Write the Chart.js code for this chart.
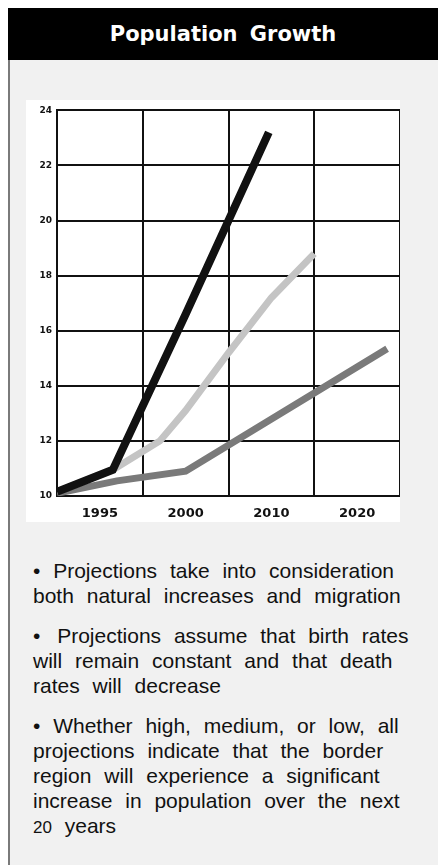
<!DOCTYPE html>
<html>
<head>
<meta charset="utf-8">
<script src="https://cdn.jsdelivr.net/npm/chart.js@4"></script>
<style>
  html, body { margin: 0; padding: 0; background: #fff; }
  #page { position: relative; width: 438px; height: 865px; overflow: hidden; background: #fff; }
  #panel { position: absolute; left: 8px; top: 8px; width: 430px; height: 857px; background: #f1f1f1; border-left: 2px solid #7a7a7a; box-sizing: border-box; }
  #header { position: absolute; left: 8px; top: 8px; width: 430px; height: 52px; background: #000; color: #fff;
    font-family: "DejaVu Sans", Arial, sans-serif; font-weight: bold; font-size: 21px; word-spacing: 5px;
    text-align: center; line-height: 52px; }
  #plot { position: absolute; left: 26px; top: 100px; width: 374px; height: 422px; background: #fff; }
  #notes { position: absolute; left: 33px; top: 558px; width: 384px; font-family: "Liberation Sans", Arial, sans-serif;
    font-size: 21px; line-height: 25px; color: #111; word-spacing: 7px; }
  #notes p { margin: 0 0 15px 0; }
  .gap { margin-left: 4px; }
  .small { font-size: 17px; }
</style>
</head>
<body>
<div id="page">
  <div id="panel"></div>
  <div id="header">Population Growth</div>
  <div id="plot"><canvas id="grafico" width="374" height="422"></canvas></div>
  <div id="notes">
    <p>• Projections take into consideration both natural increases and migration</p>
    <p>• <span class="gap">Projections</span> assume that birth rates will remain constant and that death rates will decrease</p>
    <p>• Whether high, medium, or low, all projections indicate that the border region will experience a significant increase in population over the next <span class="small">20</span> years</p>
  </div>
</div>
<script>
// categories shown under the bins
const xLabels = ['1995', '2000', '2010', '2020'];
// value ticks
const yTicks = [10, 12, 14, 16, 18, 20, 22, 24];

// (year, value)
const yearsHigh = [1985, 1991.5, 2000, 2009.7];
const valsHigh = [10.15, 10.95, 16.6, 23.2];
const yearsMed = [1985, 1991.5, 1997, 2000, 2005, 2010, 2015];
const valsMed = [10.15, 10.95, 12.0, 13.1, 15.2, 17.2, 18.8];
const yearsLow = [1985, 1992, 2000, 2023.5];
const valsLow = [10.1, 10.55, 10.9, 15.35];

const pts = (xs, ys) => xs.map((x, i) => ({ x, y: ys[i] }));

document.addEventListener("DOMContentLoaded", () => {
  const ctx = document.getElementById("grafico").getContext("2d");
  new Chart(ctx, {
    type: 'line',
    data: {
      datasets: [
        { label: 'High', data: pts(yearsHigh, valsHigh), borderColor: '#111', borderWidth: 8, xAxisID: 'xd' },
        { label: 'Medium', data: pts(yearsMed, valsMed), borderColor: '#c4c4c4', borderWidth: 7, xAxisID: 'xd' },
        { label: 'Low', data: pts(yearsLow, valsLow), borderColor: '#7a7a7a', borderWidth: 7, xAxisID: 'xd' }
      ]
    },
    options: {
      responsive: false,
      animation: false,
      events: [],
      layout: { padding: { top: 9, right: 0, left: 0, bottom: 0 } },
      elements: { point: { radius: 0 }, line: { tension: 0, borderCapStyle: 'butt' } },
      plugins: { legend: { display: false }, tooltip: { enabled: false } },
      scales: {
        x: {
          type: 'category',
          labels: xLabels,
          offset: true,
          grid: {
            offset: true,
            drawTicks: false,
            lineWidth: 2,
            color: c => c.index >= xLabels.length ? 'rgba(0,0,0,0)' : '#111'
          },
          border: { display: true, color: '#111', width: 2 },
          ticks: { color: '#111', padding: 10, font: { family: 'DejaVu Sans', weight: 'bold', size: 13 } },
          afterFit: s => { s.height = 26; }
        },
        xd: { type: 'linear', display: false, min: 1985, max: 2025 },
        y: {
          min: 10,
          max: 24,
          afterBuildTicks: s => { s.ticks = yTicks.map(v => ({ value: v })); },
          grid: { drawTicks: false, lineWidth: 2, color: '#111' },
          border: { display: true, color: '#111', width: 2 },
          ticks: { color: '#111', padding: 5, font: { family: 'DejaVu Sans', weight: 'bold', size: 9 } },
          afterFit: s => { s.width = 31; }
        }
      }
    }
  });
});
</script>
</body>
</html>
